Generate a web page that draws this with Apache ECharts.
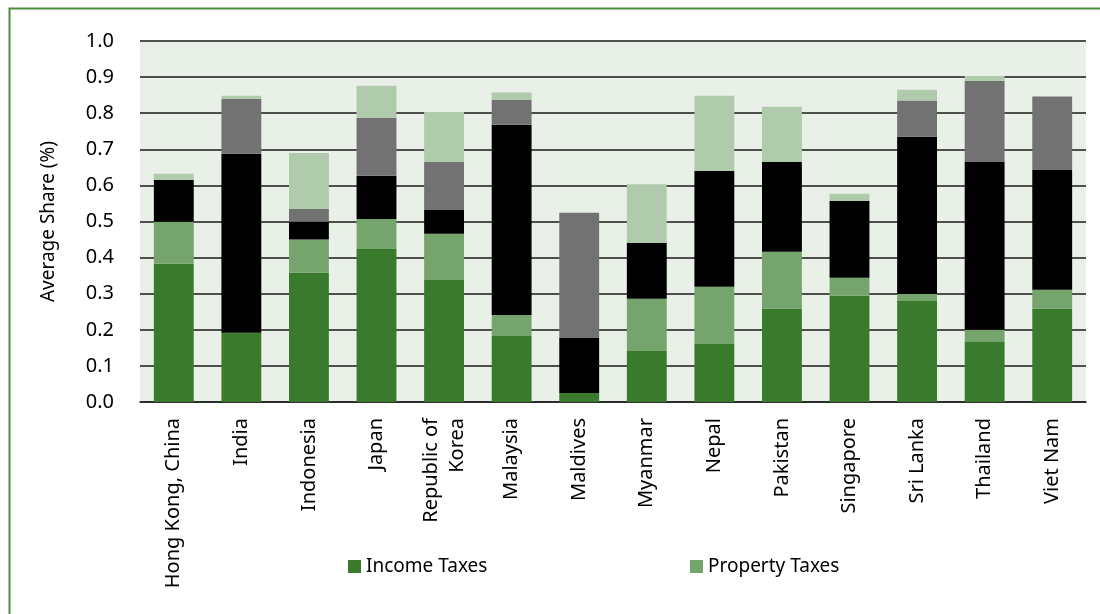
<!DOCTYPE html>
<html>
<head>
<meta charset="utf-8">
<script src="https://cdn.jsdelivr.net/npm/echarts@6/dist/echarts.min.js"></script>
<style>
  html, body { margin: 0; padding: 0; background: #fff; }
  #chart { width: 1100px; height: 614px; }
</style>
</head>
<body>
<div id="chart"></div>
<script>
// categories (x axis)
var countries = [
  "Hong Kong, China", "India", "Indonesia", "Japan", "Republic of\nKorea",
  "Malaysia", "Maldives", "Myanmar", "Nepal", "Pakistan",
  "Singapore", "Sri Lanka", "Thailand", "Viet Nam"
];

// stacked shares, bottom to top
var incomeTaxes   = [0.383, 0.192, 0.358, 0.424, 0.338, 0.183, 0.025, 0.141, 0.161, 0.258, 0.294, 0.280, 0.166, 0.258];
var propertyTaxes = [0.116, 0,     0.092, 0.083, 0.128, 0.058, 0,     0.145, 0.158, 0.158, 0.050, 0.019, 0.034, 0.053];
var series3       = [0.116, 0.496, 0.049, 0.120, 0.066, 0.527, 0.152, 0.155, 0.321, 0.249, 0.213, 0.436, 0.465, 0.332];
var series4       = [0,     0.152, 0.036, 0.160, 0.133, 0.069, 0.347, 0,     0,     0,     0,     0.100, 0.225, 0.203];
var series5       = [0.017, 0.008, 0.155, 0.089, 0.138, 0.020, 0,     0.162, 0.208, 0.153, 0.020, 0.030, 0.013, 0];

var yTicks = [0, 0.1, 0.2, 0.3, 0.4, 0.5, 0.6, 0.7, 0.8, 0.9, 1.0];

var font = "Noto Sans";

var myChart = echarts.init(document.getElementById("chart"));

function barSeries(name, data, color) {
  return {
    name: name,
    type: "bar",
    stack: "total",
    barWidth: "59%",
    itemStyle: { color: color },
    data: data
  };
}

function legendItem(name, left) {
  return {
    data: [name],
    left: left,
    top: 557,
    padding: 0,
    icon: "rect",
    itemWidth: 13,
    itemHeight: 13,
    selectedMode: false,
    textStyle: { fontFamily: font, fontSize: 19, color: "#000" }
  };
}

var option = {
  animation: false,
  textStyle: { fontFamily: font },
  // green frame of the figure
  graphic: [
    {
      type: "rect",
      left: 7,
      top: 6,
      shape: { width: 1110, height: 640 },
      style: { fill: "none", stroke: "#4e8b3e", lineWidth: 2 },
      silent: true
    }
  ],
  grid: {
    left: 140,
    right: 14,
    top: 41,
    bottom: 212,
    show: true,
    backgroundColor: "#e9f0e8",
    borderWidth: 0
  },
  legend: [
    legendItem("Income Taxes", 348),
    legendItem("Property Taxes", 690)
  ],
  xAxis: {
    type: "category",
    data: countries,
    axisLine: { show: true, lineStyle: { color: "#222", width: 1.5 } },
    axisTick: { show: false },
    axisLabel: {
      interval: 0,
      rotate: 90,
      margin: 16,
      fontFamily: font,
      fontSize: 20,
      lineHeight: 26,
      color: "#000"
    }
  },
  yAxis: {
    type: "value",
    min: yTicks[0],
    max: yTicks[yTicks.length - 1],
    interval: 0.1,
    name: "Average Share (%)",
    nameLocation: "middle",
    nameGap: 82,
    nameTextStyle: { fontFamily: font, fontSize: 19, color: "#000" },
    axisLine: { show: false },
    axisTick: { show: false },
    splitLine: { show: true, lineStyle: { color: "#1a1a1a", width: 1.5 } },
    axisLabel: {
      margin: 26,
      fontFamily: font,
      fontSize: 20,
      color: "#000",
      formatter: function (v) { return v.toFixed(1); }
    }
  },
  series: [
    barSeries("Income Taxes", incomeTaxes, "#3a7a2c"),
    barSeries("Property Taxes", propertyTaxes, "#75a46c"),
    barSeries("Series 3", series3, "#000000"),
    barSeries("Series 4", series4, "#727273"),
    barSeries("Series 5", series5, "#afcbab")
  ]
};

myChart.setOption(option, true);
</script>
</body>
</html>
